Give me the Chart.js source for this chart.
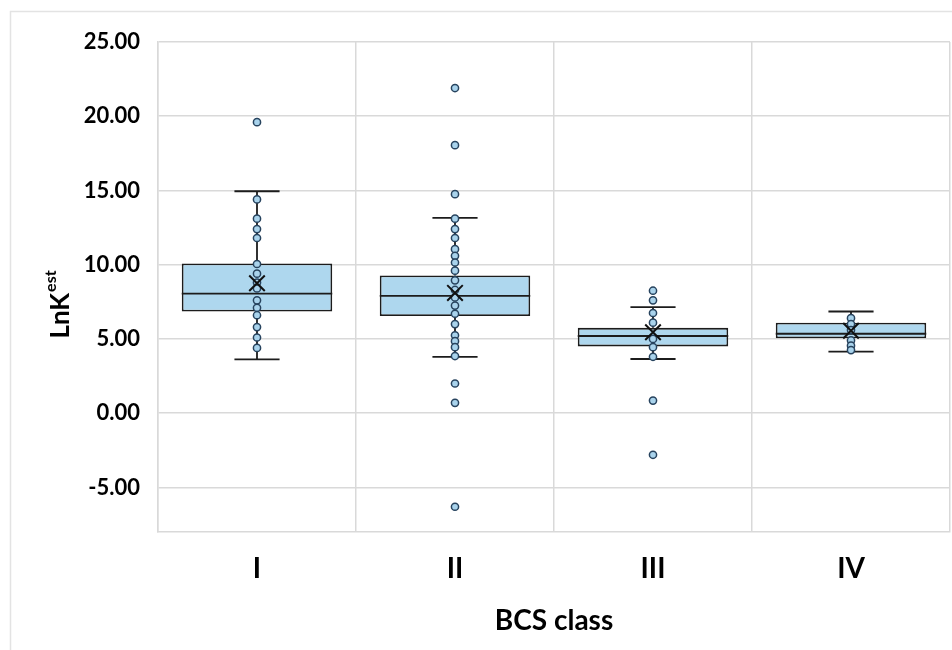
<!DOCTYPE html>
<html>
<head>
<meta charset="utf-8">
<script src="https://cdn.jsdelivr.net/npm/chart.js@4.4.1/dist/chart.umd.min.js"></script>
<style>
  html, body { margin: 0; padding: 0; background: #fff; }
  #wrap { width: 952px; height: 650px; }
</style>
</head>
<body>
<div id="wrap"><canvas id="chart" width="952" height="650"></canvas></div>
<script>
// BCS classes on the x axis
const classes = ['I', 'II', 'III', 'IV'];

// box plot summary per class
const whiskerLow = [3.62, 3.8, 3.65, 4.15];
const q1 = [6.85, 6.55, 4.5, 5.05];
const medians = [8.05, 7.9, 5.2, 5.35];
const q3 = [10.08, 9.28, 5.75, 6.1];
const whiskerHigh = [14.95, 13.15, 7.15, 6.85];
const means = [8.75, 8.1, 5.45, 5.55];

// individual LnK values per class
const pointsI = [19.6, 14.4, 13.1, 12.4, 11.8, 10.05, 9.4, 8.8, 8.4, 7.6, 7.1, 6.6, 5.8, 5.1, 4.4];
const pointsII = [21.9, 18.05, 14.75, 13.1, 12.4, 11.8, 11.05, 10.6, 10.15, 9.6, 8.95, 8.3, 7.8, 7.25, 6.7, 6.0, 5.25, 4.85, 4.45, 3.85, 2.0, 0.7, -6.3];
const pointsIII = [8.25, 7.6, 6.75, 6.1, 5.0, 4.45, 3.8, 0.85, -2.8];
const pointsIV = [6.4, 6.0, 5.6, 4.9, 4.55, 4.25];

const yTicks = [-5, 0, 5, 10, 15, 20, 25];

const gridColor = '#d9d9d9';
const boxFill = '#aed7ee';
const lineColor = '#1c1c1c';

const allPoints = [pointsI, pointsII, pointsIII, pointsIV];
const scatterData = [];
allPoints.forEach((vals, i) => {
    vals.forEach(v => scatterData.push({ x: classes[i], y: v }));
});
const meanData = means.map((m, i) => ({ x: classes[i], y: m }));

// whiskers, caps and median drawn right after the boxes
const boxExtras = {
    id: 'boxExtras',
    afterDatasetDraw(chart, args) {
        if (args.index !== 0) return;
        const ctx = chart.ctx;
        const xs = chart.scales.x;
        const ys = chart.scales.y;
        const bars = chart.getDatasetMeta(0).data;
        ctx.save();
        ctx.strokeStyle = lineColor;
        ctx.lineWidth = 1.8;
        classes.forEach((c, i) => {
            const x = xs.getPixelForValue(i);
            const half = bars[i].width / 2;
            const cap = half * 0.3;
            const yLow = ys.getPixelForValue(whiskerLow[i]);
            const yQ1 = ys.getPixelForValue(q1[i]);
            const yMed = ys.getPixelForValue(medians[i]);
            const yQ3 = ys.getPixelForValue(q3[i]);
            const yHigh = ys.getPixelForValue(whiskerHigh[i]);
            ctx.beginPath();
            ctx.moveTo(x, yQ1); ctx.lineTo(x, yLow);
            ctx.moveTo(x - cap, yLow); ctx.lineTo(x + cap, yLow);
            ctx.moveTo(x, yQ3); ctx.lineTo(x, yHigh);
            ctx.moveTo(x - cap, yHigh); ctx.lineTo(x + cap, yHigh);
            ctx.moveTo(x - half, yMed); ctx.lineTo(x + half, yMed);
            ctx.stroke();
        });
        ctx.restore();
    }
};

// outer frame and y title with superscript
const frameAndTitle = {
    id: 'frameAndTitle',
    beforeDraw(chart) {
        const ctx = chart.ctx;
        ctx.save();
        ctx.fillStyle = '#fff';
        ctx.fillRect(0, 0, chart.width, chart.height);
        ctx.strokeStyle = '#e3e3e3';
        ctx.lineWidth = 1.5;
        ctx.strokeRect(10.5, 11.5, chart.width, chart.height);
        ctx.restore();
    },
    afterDraw(chart) {
        const ctx = chart.ctx;
        const main = 'LnK', sup = 'est';
        ctx.save();
        ctx.translate(59, 305);
        ctx.rotate(-Math.PI / 2);
        ctx.fillStyle = '#000';
        ctx.textBaseline = 'middle';
        ctx.font = 'bold 26px Lato';
        const w1 = ctx.measureText(main).width;
        ctx.font = 'bold 16px Lato';
        const w2 = ctx.measureText(sup).width;
        const x0 = -(w1 + w2) / 2;
        ctx.font = 'bold 26px Lato';
        ctx.fillText(main, x0, 2);
        ctx.font = 'bold 16px Lato';
        ctx.fillText(sup, x0 + w1 + 1, -8);
        ctx.restore();
    }
};

new Chart(document.getElementById('chart'), {
    type: 'bar',
    data: {
        labels: classes,
        datasets: [
            {
                label: 'Box',
                data: q1.map((v, i) => [v, q3[i]]),
                backgroundColor: boxFill,
                borderColor: lineColor,
                borderWidth: 1.8,
                borderSkipped: false,
                barPercentage: 0.76,
                categoryPercentage: 1.0,
                order: 3
            },
            {
                type: 'line',
                label: 'LnK',
                data: scatterData,
                showLine: false,
                pointStyle: 'circle',
                pointRadius: 3.6,
                pointBackgroundColor: '#a9d3ec',
                pointBorderColor: '#27435e',
                pointBorderWidth: 1.5,
                order: 2
            },
            {
                type: 'line',
                label: 'Mean',
                data: meanData,
                showLine: false,
                pointStyle: 'crossRot',
                pointRadius: 11,
                pointBorderColor: '#111',
                pointBorderWidth: 2,
                order: 1
            }
        ]
    },
    options: {
        responsive: false,
        animation: false,
        layout: { autoPadding: false, padding: { left: 0, top: 42, right: 2, bottom: 0 } },
        plugins: {
            legend: { display: false },
            tooltip: { enabled: false }
        },
        scales: {
            x: {
                type: 'category',
                offset: true,
                grid: { color: gridColor, lineWidth: 1.5, offset: true, drawTicks: false },
                border: { color: gridColor, width: 1.5 },
                ticks: {
                    color: '#000',
                    padding: 20,
                    font: { family: 'Lato', size: 28, weight: 'bold' }
                },
                title: {
                    display: true,
                    text: 'BCS class',
                    color: '#000',
                    padding: { top: 0, bottom: 12 },
                    font: { family: 'Lato', size: 28, weight: 'bold' }
                },
                afterFit(scale) { scale.height = 118; }
            },
            y: {
                min: -8,
                max: 25,
                grid: { color: gridColor, lineWidth: 1.5, drawTicks: false },
                border: { color: gridColor, width: 1.5 },
                ticks: {
                    color: '#000',
                    padding: 18,
                    font: { family: 'Lato', size: 22, weight: 'bold' },
                    callback: v => v.toFixed(2)
                },
                afterBuildTicks(scale) {
                    scale.ticks = yTicks.map(v => ({ value: v }));
                },
                afterFit(scale) { scale.width = 158; }
            }
        }
    },
    plugins: [boxExtras, frameAndTitle]
});
</script>
</body>
</html>
